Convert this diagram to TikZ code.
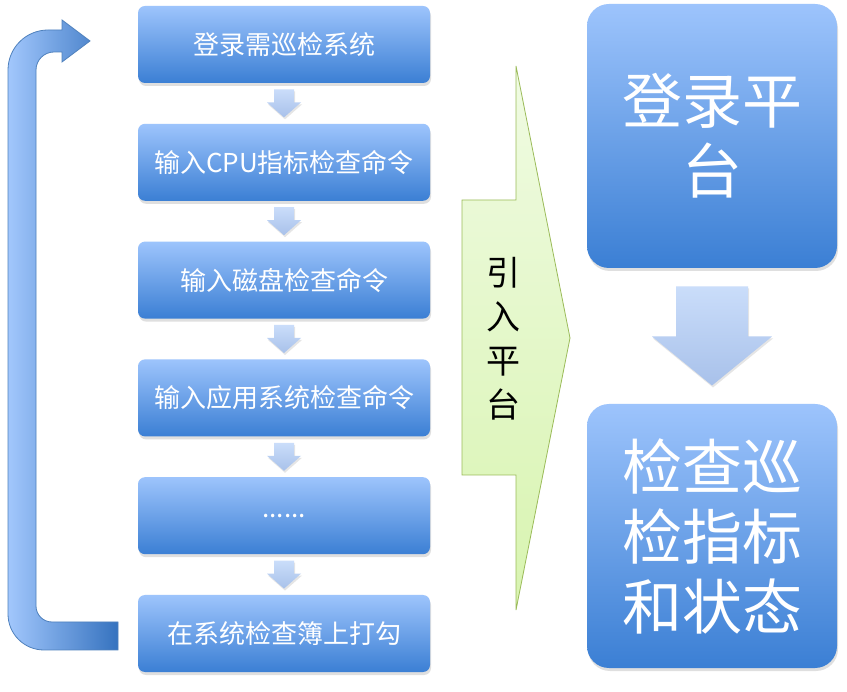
\documentclass[tikz,border=0pt]{standalone}
\usepackage{fontspec}
\newfontfamily\cjk{Noto Sans CJK SC}
\usepackage{xcolor}
\usepackage{tikz}
\usetikzlibrary{positioning, calc, shadows}

\definecolor{boxtop}{HTML}{9DC4FC}
\definecolor{boxbot}{HTML}{3B7FD4}
\definecolor{arrtop}{HTML}{CADDFA}
\definecolor{arrbot}{HTML}{A8C1EA}
\definecolor{leadtop}{HTML}{F0FBE3}
\definecolor{leadbot}{HTML}{D8F4B0}
\definecolor{leadline}{HTML}{9BBB59}
\definecolor{loopline}{HTML}{4F81BD}

\begin{document}
\begin{tikzpicture}[
    x=1pt, y=-1pt,
    node distance=40.4pt,
    stepbox/.style={rectangle, rounded corners=7pt, top color=boxtop, bottom color=boxbot, minimum width=292pt, minimum height=77pt, text=white, font=\cjk\fontsize{26}{30}\selectfont, drop shadow={opacity=0.25, shadow xshift=1pt, shadow yshift=-3pt}},
    bigbox/.style={rectangle, rounded corners=22pt, top color=boxtop, bottom color=boxbot, minimum width=250pt, minimum height=264pt, text=white, align=center, font=\cjk\fontsize{60}{70}\selectfont, drop shadow={opacity=0.25, shadow xshift=1pt, shadow yshift=-3pt}},
    arrowfill/.style={top color=arrtop, bottom color=arrbot, drop shadow={opacity=0.2, shadow xshift=1pt, shadow yshift=-2pt}},
    flowarrow/.pic={\path[arrowfill] (-10,-14) -- (10,-14) -- (10,-1) -- (17,-1) -- (0,14) -- (-17,-1) -- (-10,-1) -- cycle;},
    bigarrow/.pic={\path[arrowfill] (-36,-49.5) -- (36,-49.5) -- (36,0.5) -- (60,0.5) -- (0,49.5) -- (-60,0.5) -- (-36,0.5) -- cycle;},
    leadarrow/.style={draw=leadline, line width=0.8pt, top color=leadtop, bottom color=leadbot},
    looparrow/.style={draw=loopline, line width=0.8pt, left color=boxtop!95!white, right color=boxbot!90!black},
    leadtext/.style={align=center, font=\cjk\fontsize{34}{44}\selectfont}
]

\fill[white] (0,0) rectangle (847,692);
\useasboundingbox (0,0) rectangle (847,692);

% Left column of steps
\node[stepbox] (login) at (284,44.5) {登录需巡检系统};
\node[stepbox, below=of login] (cpu) {输入CPU指标检查命令};
\node[stepbox, below=of cpu] (disk) {输入磁盘检查命令};
\node[stepbox, below=of disk] (app) {输入应用系统检查命令};
\node[stepbox, below=of app] (more) {......};
\node[stepbox, below=of more] (tick) {在系统检查簿上打勾};

% Arrows between steps
\pic at ($(login.south)!0.5!(cpu.north)$) {flowarrow};
\pic at ($(cpu.south)!0.5!(disk.north)$) {flowarrow};
\pic at ($(disk.south)!0.5!(app.north)$) {flowarrow};
\pic at ($(app.south)!0.5!(more.north)$) {flowarrow};
\pic at ($(more.south)!0.5!(tick.north)$) {flowarrow};

% Loop back to the first step
\draw[looparrow] (118,650) -- (44,650) arc (90:180:36) -- (8,70) arc (180:270:40)
    -- (62,30) -- (62,20) -- (90,41) -- (62,62) -- (62,52)
    -- (54,52) arc (270:180:18) -- (36,606) arc (180:90:16) -- (118,622) -- cycle;

% Lead-in arrow
\draw[leadarrow] (462,200) -- (516,200) -- (516,66) -- (570,338) -- (516,610) -- (516,475) -- (462,475) -- cycle;
\node[leadtext] (lead) at (503,339) {引\\入\\平\\台};

% Right column
\node[bigbox] (platform) at (712,136) {登录平\\台};
\node[bigbox] (status) at (712,536) {检查巡\\检指标\\和状态};
\pic at ($(platform.south)!0.5!(status.north)$) {bigarrow};

\end{tikzpicture}
\end{document}
